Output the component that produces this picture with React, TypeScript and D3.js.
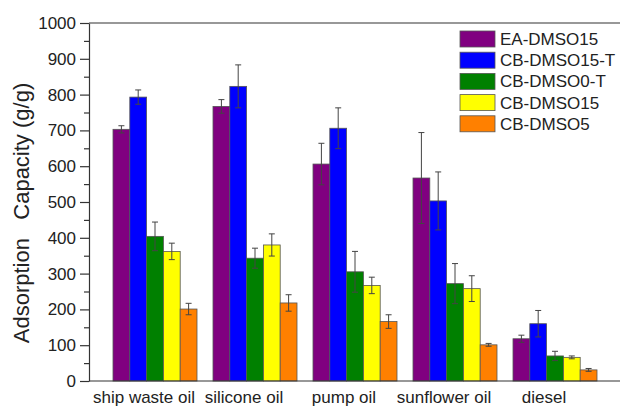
import React, { useRef, useEffect } from 'react';
import * as d3 from 'd3';

const WIDTH = 620;
const HEIGHT = 406;
const MARGIN = { top: 23, right: 0, bottom: 25, left: 89 };

const categories = ['ship waste oil', 'silicone oil', 'pump oil', 'sunflower oil', 'diesel'];
const seriesNames = ['EA-DMSO15', 'CB-DMSO15-T', 'CB-DMSO0-T', 'CB-DMSO15', 'CB-DMSO5'];
const seriesColors = ['#800080', '#0000ff', '#008000', '#ffff00', '#ff8000'];

// values per series, in category order
const eaDmso15 = [703, 767, 606, 567, 118];
const cbDmso15T = [793, 823, 706, 503, 160];
const cbDmso0T = [404, 343, 305, 272, 70];
const cbDmso15 = [362, 380, 267, 258, 66];
const cbDmso5 = [201, 218, 166, 101, 31];

const eaDmso15Err = [10, 19, 58, 127, 10];
const cbDmso15TErr = [20, 60, 57, 81, 37];
const cbDmso0TErr = [40, 28, 57, 56, 13];
const cbDmso15Err = [23, 31, 23, 36, 4];
const cbDmso5Err = [16, 23, 19, 4, 4];

const seriesValues = [eaDmso15, cbDmso15T, cbDmso0T, cbDmso15, cbDmso5];
const seriesErrors = [eaDmso15Err, cbDmso15TErr, cbDmso0TErr, cbDmso15Err, cbDmso5Err];

const yTicks = [0, 100, 200, 300, 400, 500, 600, 700, 800, 900, 1000];

const FONT = 'Arial, "Liberation Sans", Helvetica, sans-serif';
const AXIS = '#333';

export default function App() {
  const svgRef = useRef<SVGSVGElement>(null);

  useEffect(() => {
    if (!svgRef.current) return;
    const innerW = WIDTH - MARGIN.left - MARGIN.right;
    const innerH = HEIGHT - MARGIN.top - MARGIN.bottom;

    const svg = d3.select(svgRef.current);
    svg.selectAll('*').remove();
    const g = svg.append('g').attr('transform', `translate(${MARGIN.left},${MARGIN.top})`);

    const x0 = d3.scaleBand<string>()
      .domain(categories)
      .range([16, 516])
      .paddingInner(0.16)
      .paddingOuter(0.08);

    const x1 = d3.scaleBand<string>()
      .domain(seriesNames)
      .range([0, x0.bandwidth()]);

    const y = d3.scaleLinear().domain([0, 1000]).range([innerH, 0]);

    // Bars
    seriesNames.forEach((name, si) => {
      const rows = categories.map((c, ci) => ({
        c,
        v: seriesValues[si][ci],
        e: seriesErrors[si][ci],
      }));
      const sg = g.append('g');
      sg.selectAll('rect')
        .data(rows)
        .join('rect')
        .attr('x', d => (x0(d.c) ?? 0) + (x1(name) ?? 0))
        .attr('y', d => y(d.v))
        .attr('width', x1.bandwidth())
        .attr('height', d => innerH - y(d.v))
        .attr('fill', seriesColors[si])
        .attr('stroke', '#555')
        .attr('stroke-width', 0.8);

      // Error bars
      const eg = sg.append('g').attr('stroke', '#444').attr('stroke-width', 1);
      rows.forEach(d => {
        const cx = (x0(d.c) ?? 0) + (x1(name) ?? 0) + x1.bandwidth() / 2;
        const yt = y(d.v + d.e);
        const yb = y(d.v - d.e);
        eg.append('line').attr('x1', cx).attr('x2', cx).attr('y1', yt).attr('y2', yb);
        eg.append('line').attr('x1', cx - 3).attr('x2', cx + 3).attr('y1', yt).attr('y2', yt);
        eg.append('line').attr('x1', cx - 3).attr('x2', cx + 3).attr('y1', yb).attr('y2', yb);
      });
    });

    // Frame lines: top and bottom
    g.append('line')
      .attr('x1', 0).attr('x2', innerW)
      .attr('y1', 0).attr('y2', 0)
      .attr('stroke', AXIS).attr('stroke-width', 1.2);
    g.append('line')
      .attr('x1', 0).attr('x2', innerW)
      .attr('y1', innerH).attr('y2', innerH)
      .attr('stroke', AXIS).attr('stroke-width', 1.2);

    // Y axis: minor ticks then major
    g.append('g')
      .call(d3.axisLeft(y).tickValues(d3.range(50, 1000, 100)).tickSize(5).tickFormat(() => ''))
      .call(a => a.select('.domain').remove())
      .call(a => a.selectAll('line').attr('stroke', AXIS).attr('stroke-width', 1.2));

    g.append('g')
      .call(d3.axisLeft(y).tickValues(yTicks).tickSize(9).tickPadding(4).tickSizeOuter(0)
        .tickFormat(d3.format('d')))
      .call(a => a.select('.domain').attr('stroke', AXIS).attr('stroke-width', 1.2))
      .call(a => a.selectAll('line').attr('stroke', AXIS).attr('stroke-width', 1.2))
      .call(a => a.selectAll('text')
        .attr('font-family', FONT).attr('font-size', 17).attr('fill', '#222'));

    // X labels
    g.append('g')
      .selectAll('text')
      .data(categories)
      .join('text')
      .attr('x', d => (x0(d) ?? 0) + x0.bandwidth() / 2 - 11)
      .attr('y', innerH + 22)
      .attr('text-anchor', 'middle')
      .attr('font-family', FONT).attr('font-size', 17).attr('fill', '#222')
      .text(d => d);

    // Y title
    svg.append('text')
      .attr('transform', `translate(29,213) rotate(-90)`)
      .attr('text-anchor', 'middle')
      .attr('font-family', FONT).attr('font-size', 22).attr('fill', '#222')
      .attr('xml:space', 'preserve')
      .style('white-space', 'pre')
      .text('Adsorption   Capacity (g/g)');

    // Legend
    const lg = svg.append('g').attr('transform', 'translate(460,31)');
    seriesNames.forEach((name, i) => {
      const row = lg.append('g').attr('transform', `translate(0,${i * 21.2})`);
      row.append('rect')
        .attr('width', 35).attr('height', 16)
        .attr('fill', seriesColors[i])
        .attr('stroke', '#555').attr('stroke-width', 0.8);
      row.append('text')
        .attr('x', 40).attr('y', 14)
        .attr('font-family', FONT).attr('font-size', 17).attr('fill', '#222')
        .text(name);
    });
  }, []);

  return (
    <div style={{ position: 'fixed', left: 0, top: 0, background: '#fff' }}>
      <svg ref={svgRef} width={WIDTH} height={HEIGHT} style={{ display: 'block' }} />
    </div>
  );
}
